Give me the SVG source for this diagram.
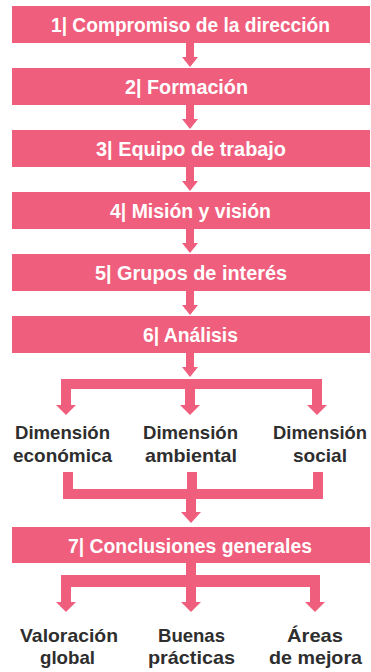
<svg xmlns="http://www.w3.org/2000/svg" width="371" height="672" viewBox="0 0 371 672">
<style>
.box{fill:#EF5E7C}
.con{fill:#EF5E7C}
.bt{font-family:"Liberation Sans Narrow","Liberation Sans",Arial,sans-serif;font-weight:bold;font-size:20px;fill:#ffffff}
.lt{font-family:"Liberation Sans Narrow","Liberation Sans",Arial,sans-serif;font-weight:bold;font-size:19px;fill:#2e2e2e}
</style>
<rect width="371" height="672" fill="#ffffff"/>
<g id="connectors" class="con">
<rect x="186" y="43" width="8" height="14"/><polygon points="182,57 198,57 190,67"/>
<rect x="186" y="105" width="8" height="14"/><polygon points="182,119 198,119 190,129"/>
<rect x="186" y="167" width="8" height="14"/><polygon points="182,181 198,181 190,191"/>
<rect x="186" y="229" width="8" height="14"/><polygon points="182,243 198,243 190,253"/>
<rect x="186" y="291" width="8" height="14"/><polygon points="182,305 198,305 190,315"/>
<rect x="186" y="353" width="8" height="14"/><polygon points="182,367 198,367 190,377"/>
<rect x="61" y="379" width="261" height="10"/>
<rect x="61" y="379" width="10" height="26"/><polygon points="56,405 76,405 66,415"/>
<rect x="185" y="379" width="10" height="26"/><polygon points="180,405 200,405 190,415"/>
<rect x="312" y="379" width="10" height="26"/><polygon points="307,405 327,405 317,415"/>
<rect x="63" y="472" width="10" height="27"/>
<rect x="187" y="472" width="10" height="27"/>
<rect x="313" y="472" width="10" height="27"/>
<rect x="63" y="489" width="260" height="10"/>
<rect x="186" y="499" width="10" height="13"/><polygon points="181,512 201,512 191,523"/>
<rect x="186" y="563" width="10" height="12"/>
<rect x="61" y="575" width="259" height="12"/>
<rect x="61" y="575" width="10" height="27"/><polygon points="56,602 76,602 66,612"/>
<rect x="186" y="575" width="10" height="27"/><polygon points="181,602 201,602 191,612"/>
<rect x="310" y="575" width="10" height="27"/><polygon points="305,602 325,602 315,612"/>
</g>
<g id="n1"><rect class="box" x="12" y="6" width="358" height="37"/><text class="bt" x="51" y="32" textLength="279" lengthAdjust="spacingAndGlyphs">1| Compromiso de la dirección</text></g>
<g id="n2"><rect class="box" x="12" y="68" width="358" height="37"/><text class="bt" x="125" y="94" textLength="123" lengthAdjust="spacingAndGlyphs">2| Formación</text></g>
<g id="n3"><rect class="box" x="12" y="130" width="358" height="37"/><text class="bt" x="96" y="156" textLength="190" lengthAdjust="spacingAndGlyphs">3| Equipo de trabajo</text></g>
<g id="n4"><rect class="box" x="12" y="192" width="358" height="37"/><text class="bt" x="110" y="218" textLength="161" lengthAdjust="spacingAndGlyphs">4| Misión y visión</text></g>
<g id="n5"><rect class="box" x="12" y="254" width="358" height="37"/><text class="bt" x="95" y="280" textLength="192" lengthAdjust="spacingAndGlyphs">5| Grupos de interés</text></g>
<g id="n6"><rect class="box" x="12" y="316" width="358" height="37"/><text class="bt" x="143" y="342" textLength="95" lengthAdjust="spacingAndGlyphs">6| Análisis</text></g>
<g id="d1"><text class="lt" x="15" y="439" textLength="95" lengthAdjust="spacingAndGlyphs">Dimensión</text><text class="lt" x="13" y="461.5" textLength="99" lengthAdjust="spacingAndGlyphs">económica</text></g>
<g id="d2"><text class="lt" x="143" y="439" textLength="95" lengthAdjust="spacingAndGlyphs">Dimensión</text><text class="lt" x="145" y="461.5" textLength="92" lengthAdjust="spacingAndGlyphs">ambiental</text></g>
<g id="d3"><text class="lt" x="273" y="439" textLength="94" lengthAdjust="spacingAndGlyphs">Dimensión</text><text class="lt" x="293" y="461.5" textLength="54" lengthAdjust="spacingAndGlyphs">social</text></g>
<g id="n7"><rect class="box" x="12" y="527" width="358" height="36"/><text class="bt" x="68" y="553" textLength="244" lengthAdjust="spacingAndGlyphs">7| Conclusiones generales</text></g>
<g id="c1"><text class="lt" x="20" y="641.5" textLength="98" lengthAdjust="spacingAndGlyphs">Valoración</text><text class="lt" x="40" y="664" textLength="55" lengthAdjust="spacingAndGlyphs">global</text></g>
<g id="c2"><text class="lt" x="158" y="641.5" textLength="67" lengthAdjust="spacingAndGlyphs">Buenas</text><text class="lt" x="148" y="664" textLength="87" lengthAdjust="spacingAndGlyphs">prácticas</text></g>
<g id="c3"><text class="lt" x="287" y="641.5" textLength="56" lengthAdjust="spacingAndGlyphs">Áreas</text><text class="lt" x="269" y="664" textLength="93" lengthAdjust="spacingAndGlyphs">de mejora</text></g>
</svg>
